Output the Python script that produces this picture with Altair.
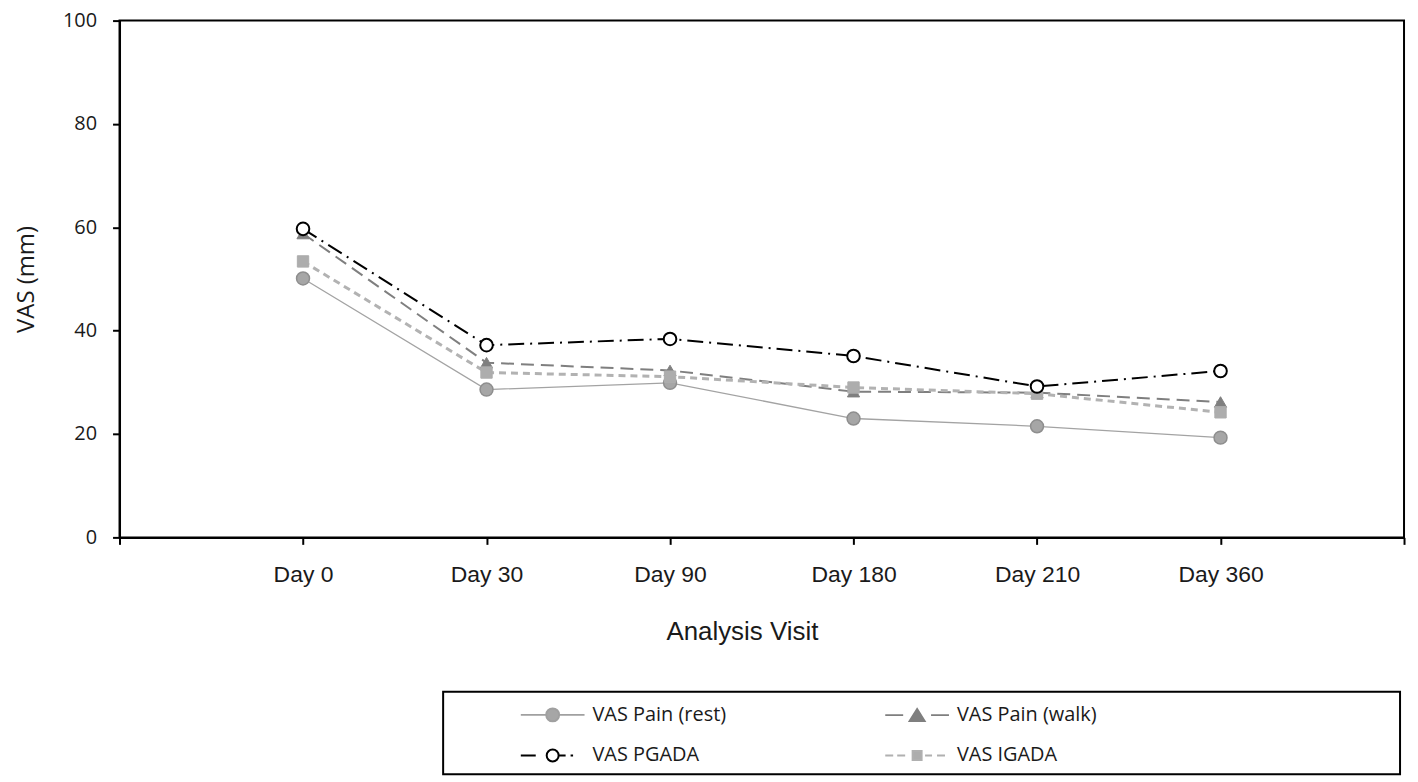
import altair as alt
import pandas as pd

# ---------------- data ----------------
days = ["Day 0", "Day 30", "Day 90", "Day 180", "Day 210", "Day 360"]
series_names = ["VAS Pain (rest)", "VAS Pain (walk)", "VAS PGADA", "VAS IGADA"]
pain_rest = [50.1, 28.6, 29.9, 23.0, 21.5, 19.3]
pain_walk = [58.8, 33.8, 32.3, 28.2, 28.0, 26.2]
pgada = [59.7, 37.2, 38.4, 35.1, 29.2, 32.2]
igada = [53.4, 31.9, 31.1, 29.0, 27.8, 24.2]
y_ticks = [0, 20, 40, 60, 80, 100]

values = {series_names[0]: pain_rest, series_names[1]: pain_walk,
          series_names[2]: pgada, series_names[3]: igada}
rows = []
for s in series_names:
    for d, v in zip(days, values[s]):
        rows.append({"series": s, "visit": d, "vas": v})
df = pd.DataFrame(rows)

# x positions: an empty slot before the first and after the last visit
x_domain = ["_start"] + days + ["_end"]

x_enc = alt.X("visit:N", sort=x_domain,
              scale=alt.Scale(domain=x_domain, type="point", padding=0),
              axis=alt.Axis(title="Analysis Visit",
                            labelExpr="datum.value == '_start' || datum.value == '_end' ? '' : datum.value",
                            labelAngle=0, tickSize=7, labelPadding=19,
                            labelFont="Liberation Sans", labelFontSize=23,
                            titleFont="Liberation Sans", titleFontSize=26,
                            titleFontWeight="normal",
                            titleX=625, titleY=95, titleAlign="center",
                            titleBaseline="middle"))
y_enc = alt.Y("vas:Q", scale=alt.Scale(domain=[0, 100], nice=False),
              axis=alt.Axis(title="VAS (mm)", values=y_ticks, tickSize=7,
                            labelPadding=16, labelFont="Open Sans",
                            labelFontSize=20, titleFont="Open Sans",
                            titleFontSize=24, titleFontWeight="normal",
                            titlePadding=24))

base = alt.Chart(df)

styles = {
    series_names[0]: dict(line=dict(color="#a3a3a3", strokeWidth=1.3),
                          point=dict(shape="circle", size=169, fill="#a6a6a6",
                                     stroke="#8e8e8e", strokeWidth=1.5)),
    series_names[1]: dict(line=dict(color="#7f7f7f", strokeWidth=2,
                                    strokeDash=[13, 7]),
                          point=dict(shape="triangle-up", size=150,
                                     fill="#7f7f7f", stroke="#7f7f7f",
                                     strokeWidth=1)),
    series_names[3]: dict(line=dict(color="#b2b2b2", strokeWidth=3,
                                    strokeDash=[7, 5]),
                          point=dict(shape="square", size=130, fill="#adadad",
                                     stroke="#adadad", strokeWidth=1)),
    series_names[2]: dict(line=dict(color="#000000", strokeWidth=2,
                                    strokeDash=[16, 6, 2, 6]),
                          point=dict(shape="circle", size=160, fill="white",
                                     stroke="#000000", strokeWidth=2)),
}

draw_order = [series_names[0], series_names[1], series_names[3], series_names[2]]
layers = []
for s in draw_order:
    st = styles[s]
    sub = base.transform_filter(alt.datum.series == s)
    layers.append(sub.mark_line(**st["line"]).encode(x=x_enc, y=y_enc))
for s in draw_order:
    st = styles[s]
    sub = base.transform_filter(alt.datum.series == s)
    layers.append(sub.mark_point(filled=True, opacity=1, **st["point"]).encode(x=x_enc, y=y_enc))

# ---------------- legend symbols (line + marker) ----------------
U = 13.0  # path unit -> pixels (sqrt(symbolSize)/2)


def f(v):
    return f"{v / U:.4f}"


def seg(x1, x2):
    return f"M{f(x1)},0L{f(x2)},0"


def circ(r, cx=0.0):
    return (f"M{f(cx + r)},0A{f(r)},{f(r)} 0 1,1 {f(cx - r)},0"
            f"A{f(r)},{f(r)} 0 1,1 {f(cx + r)},0Z")


def sq(a):
    h = a / 2
    return f"M{f(-h)},{f(-h)}L{f(h)},{f(-h)}L{f(h)},{f(h)}L{f(-h)},{f(h)}Z"


def tri(w, h):
    return f"M0,{f(-h / 2)}L{f(w / 2)},{f(h / 2)}L{f(-w / 2)},{f(h / 2)}Z"


def pt(x):
    return f"M{f(x)},0"


RIGHT_EXT = 471
shape_paths = [
    seg(-32, -6.5) + seg(6.5, 32) + circ(6.5),
    seg(-32, -14) + seg(14, 32) + tri(15, 12) + pt(RIGHT_EXT),
    seg(-32, -17) + circ(6) + seg(6, 13) + seg(18, 20.5),
    seg(-32, -24) + seg(-20, -12) + sq(9) + seg(8, 15) + seg(20, 28) + pt(RIGHT_EXT),
]
sym_stroke = ["#a0a0a0", "#7f7f7f", "#000000", "#b0b0b0"]
sym_fill = ["#a6a6a6", "#7f7f7f", "#ffffff", "#adadad"]

leg = alt.Legend(orient="none", legendX=325, legendY=674, columns=2,
                 direction="horizontal",
                 title=None, symbolSize=676, symbolOffset=87, labelOffset=26,
                 columnPadding=90, rowPadding=16, padding=9,
                 strokeColor="black", fillColor="white",
                 labelFont="Open Sans", labelFontSize=20, labelColor="#1a1a1a",
                 labelLimit=400, symbolStrokeWidth=2)

legend_layer = base.transform_filter("false").mark_point(
    filled=True, opacity=1, strokeWidth=2).encode(
    x=x_enc, y=y_enc,
    shape=alt.Shape("series:N", scale=alt.Scale(domain=series_names, range=shape_paths), legend=leg),
    fill=alt.Fill("series:N", scale=alt.Scale(domain=series_names, range=sym_fill), legend=leg),
    stroke=alt.Stroke("series:N", scale=alt.Scale(domain=series_names, range=sym_stroke), legend=leg),
)
layers.append(legend_layer)

chart = alt.layer(*layers).properties(
    width=1290, height=519,
    autosize=alt.AutoSizeParams(type="none"),
    padding={"left": 112, "top": 11, "right": 6, "bottom": 240},
).configure_axis(
    domainColor="black", domainWidth=2, tickColor="black", tickWidth=2,
    grid=False, labelColor="#1a1a1a", titleColor="#1a1a1a",
).configure_view(
    stroke="black", strokeWidth=2,
).configure_legend(strokeWidth=2)

chart.save("out.html", embed_options={"renderer": "svg", "actions": False})
